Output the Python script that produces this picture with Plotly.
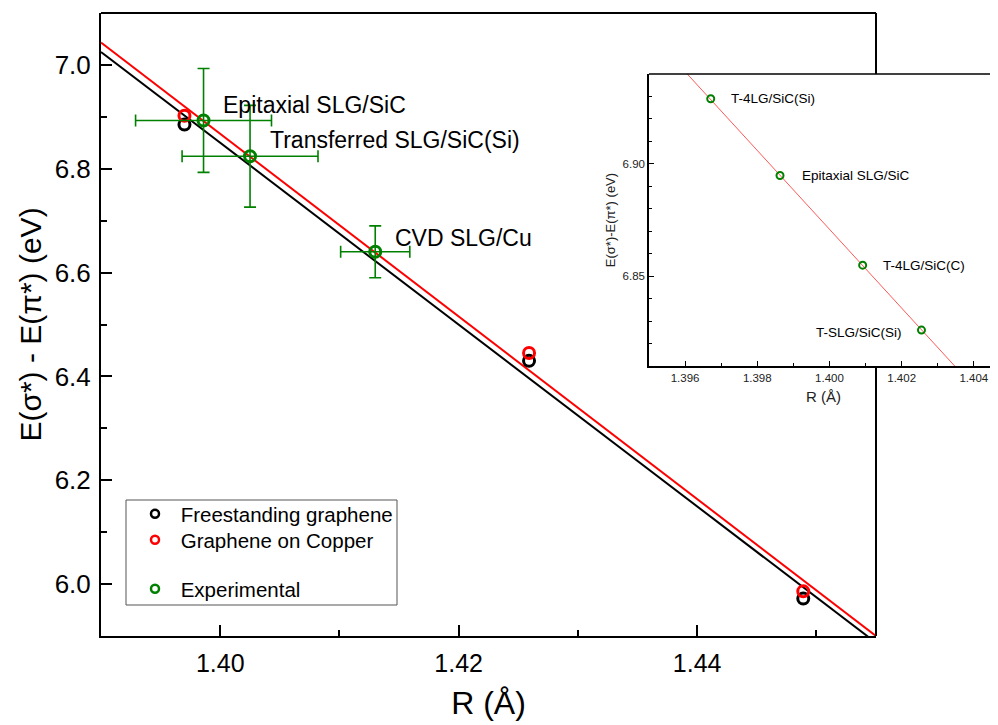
import plotly.graph_objects as go

# ---------------- main panel data ----------------
r_free = [1.3970, 1.4259, 1.4489]
e_free = [6.885, 6.430, 5.972]
r_cu = [1.3970, 1.4259, 1.4489]
e_cu = [6.902, 6.445, 5.986]

exp_names = ["Epitaxial SLG/SiC", "Transferred SLG/SiC(Si)", "CVD SLG/Cu"]
r_exp = [1.3986, 1.4025, 1.4130]
e_exp = [6.893, 6.824, 6.640]
r_exp_err = [0.0057, 0.0057, 0.0029]
e_exp_err = [0.100, 0.098, 0.050]

fit_free_r = [1.390, 1.455]
fit_free_e = [7.025, 5.887]
fit_cu_r = [1.390, 1.455]
fit_cu_e = [7.043, 5.900]

series_names = ["Freestanding graphene", "Graphene on Copper", "Experimental"]

main_x_ticks = [1.40, 1.42, 1.44]
main_y_ticks = [6.0, 6.2, 6.4, 6.6, 6.8, 7.0]

# ---------------- inset data ----------------
inset_names = ["T-4LG/SiC(Si)", "Epitaxial SLG/SiC", "T-4LG/SiC(C)", "T-SLG/SiC(Si)"]
inset_r = [1.39671, 1.39863, 1.40092, 1.40255]
inset_e = [6.929, 6.8948, 6.8549, 6.826]
inset_fit_r = [1.39606, 1.40347]
inset_fit_e = [6.940, 6.810]
inset_x_ticks = [1.396, 1.398, 1.400, 1.402, 1.404]
inset_y_ticks = [6.85, 6.90]

GREEN = "#008000"
RED = "#ff0000"
BLACK = "#000000"
FONT = "Liberation Sans, Arial, sans-serif"

# page is offset by the browser's default 8px body margin
OFF = 8
W, H = 998 - OFF, 725 - OFF


def px(x):
    return (x - OFF) / W


def py(y):
    return (H - (y - OFF)) / H


main_l, main_r, main_t, main_b = 101, 876, 13, 636
ins_l, ins_t, ins_b = 649, 74, 366

fig = go.Figure()

# fit lines
fig.add_trace(go.Scatter(x=fit_free_r, y=fit_free_e, mode="lines",
                         line=dict(color=BLACK, width=2), showlegend=False,
                         xaxis="x", yaxis="y"))
fig.add_trace(go.Scatter(x=fit_cu_r, y=fit_cu_e, mode="lines",
                         line=dict(color=RED, width=2), showlegend=False,
                         xaxis="x", yaxis="y"))

marker_main = dict(symbol="circle-open", size=11, line=dict(width=3))
fig.add_trace(go.Scatter(x=r_free, y=e_free, mode="markers",
                         marker=dict(marker_main, color=BLACK), showlegend=False))
fig.add_trace(go.Scatter(x=r_cu, y=e_cu, mode="markers",
                         marker=dict(marker_main, color=RED), showlegend=False))
fig.add_trace(go.Scatter(x=r_exp, y=e_exp, mode="markers",
                         marker=dict(marker_main, color=GREEN),
                         error_x=dict(type="data", array=r_exp_err, color=GREEN, thickness=1.6, width=6),
                         error_y=dict(type="data", array=e_exp_err, color=GREEN, thickness=1.6, width=6),
                         showlegend=False))

# legend entries (one legend per row so the rows sit exactly like the original)
NB = "\u00a0"
leg_marker = dict(symbol="circle-open", size=8, line=dict(width=2.5))
leg_ids = ["legend", "legend2", "legend3"]
for name, col, lid in zip(series_names, [BLACK, RED, GREEN], leg_ids):
    fig.add_trace(go.Scatter(x=[None], y=[None], mode="markers", name=NB + name,
                             marker=dict(leg_marker, color=col), legend=lid))

# inset
fig.add_trace(go.Scatter(x=inset_fit_r, y=inset_fit_e, mode="lines",
                         line=dict(color="rgba(255,60,60,0.85)", width=1),
                         showlegend=False, xaxis="x2", yaxis="y2"))
fig.add_trace(go.Scatter(x=inset_r, y=inset_e, mode="markers",
                         marker=dict(symbol="circle-open", size=7, color=GREEN, line=dict(width=2)),
                         showlegend=False, xaxis="x2", yaxis="y2"))

# main-panel labels
main_label_pos = [(1.4001, 6.923), (1.4040, 6.855), (1.4145, 6.667)]
for name, (xx, yy) in zip(exp_names, main_label_pos):
    fig.add_annotation(x=xx, y=yy, xref="x", yref="y", text=name, showarrow=False,
                       xanchor="left", yanchor="middle", font=dict(family=FONT, size=23, color=BLACK))

# inset labels
inset_label_pos = [(1.39722, 6.929, "left"), (1.39917, 6.8946, "left"),
                   (1.40142, 6.8548, "left"), (1.40206, 6.8248, "right")]
for name, (xx, yy, anc) in zip(inset_names, inset_label_pos):
    fig.add_annotation(x=xx, y=yy, xref="x2", yref="y2", text=name, showarrow=False,
                       xanchor=anc, yanchor="middle", font=dict(family=FONT, size=13.5, color=BLACK))

shapes = [
    # main frame top and right (right edge interrupted by the inset)
    dict(type="line", xref="paper", yref="paper", x0=px(main_l), x1=px(main_r),
         y0=py(main_t), y1=py(main_t), line=dict(color=BLACK, width=2)),
    dict(type="line", xref="paper", yref="paper", x0=px(main_r), x1=px(main_r),
         y0=py(main_t), y1=py(ins_t), line=dict(color=BLACK, width=2)),
    dict(type="line", xref="paper", yref="paper", x0=px(main_r), x1=px(main_r),
         y0=py(ins_b), y1=py(main_b), line=dict(color=BLACK, width=2)),
    # inset top border
    dict(type="line", xref="paper", yref="paper", x0=px(ins_l), x1=1.0,
         y0=py(ins_t), y1=py(ins_t), line=dict(color=BLACK, width=1.5)),
    # legend box
    dict(type="rect", xref="paper", yref="paper", x0=px(126), x1=px(397),
         y0=py(605), y1=py(500), line=dict(color="#555555", width=1)),
]

legend_style = dict(xanchor="left", yanchor="middle", bgcolor="rgba(0,0,0,0)", borderwidth=0,
                    font=dict(family=FONT, size=20.5, color=BLACK))

fig.update_layout(
    width=W, height=H,
    margin=dict(l=0, r=0, t=0, b=0),
    paper_bgcolor="white", plot_bgcolor="white",
    showlegend=True,
    legend=dict(legend_style, x=px(135), y=py(514)),
    legend2=dict(legend_style, x=px(135), y=py(540)),
    legend3=dict(legend_style, x=px(135), y=py(589)),
    shapes=shapes,
    xaxis=dict(domain=[px(main_l), px(main_r)], range=[1.39, 1.455],
               tickvals=main_x_ticks, ticktext=["%.2f" % v for v in main_x_ticks],
               ticks="inside", ticklen=11, tickwidth=2, tickcolor=BLACK,
               minor=dict(ticks="inside", ticklen=6, tickwidth=2, tickcolor=BLACK, dtick=0.01, tick0=1.39),
               showline=True, linewidth=2, linecolor=BLACK, mirror=False,
               showgrid=False, zeroline=False, ticklabelstandoff=4,
               tickfont=dict(family=FONT, size=25, color=BLACK),
               title=dict(text="R (Å)", font=dict(family=FONT, size=32, color=BLACK), standoff=16),
               anchor="y"),
    yaxis=dict(domain=[py(main_b), py(main_t)], range=[5.9, 7.1],
               tickvals=main_y_ticks, ticktext=["%.1f" % v for v in main_y_ticks],
               ticks="inside", ticklen=11, tickwidth=2, tickcolor=BLACK,
               minor=dict(ticks="inside", ticklen=6, tickwidth=2, tickcolor=BLACK, dtick=0.1, tick0=5.9),
               showline=True, linewidth=2, linecolor=BLACK, mirror=False,
               showgrid=False, zeroline=False, ticklabelstandoff=3,
               tickfont=dict(family=FONT, size=26, color=BLACK),
               title=dict(text="E(σ*) - E(π*) (eV)", font=dict(family=FONT, size=30, color=BLACK), standoff=4),
               anchor="x"),
    xaxis2=dict(domain=[px(ins_l), 1.0], range=[1.395, 1.40467],
                tickvals=inset_x_ticks, ticktext=["%.3f" % v for v in inset_x_ticks],
                ticks="inside", ticklen=5, tickwidth=1, tickcolor=BLACK,
                minor=dict(ticks="inside", ticklen=3, tickwidth=1, tickcolor=BLACK, dtick=0.001, tick0=1.395),
                showline=True, linewidth=1.5, linecolor=BLACK, mirror=False,
                showgrid=False, zeroline=False,
                tickfont=dict(family=FONT, size=11.5, color="#222222"),
                title=dict(text="R (Å)", font=dict(family=FONT, size=15, color="#222222"), standoff=9),
                anchor="y2"),
    yaxis2=dict(domain=[py(ins_b), py(ins_t)], range=[6.81, 6.94],
                tickvals=inset_y_ticks, ticktext=["%.2f" % v for v in inset_y_ticks],
                ticks="inside", ticklen=5, tickwidth=1, tickcolor=BLACK,
                minor=dict(ticks="inside", ticklen=3, tickwidth=1, tickcolor=BLACK, dtick=0.01, tick0=6.81),
                showline=True, linewidth=1.5, linecolor=BLACK, mirror=False,
                showgrid=False, zeroline=False,
                tickfont=dict(family=FONT, size=11.5, color="#222222"),
                title=dict(text="E(σ*)-E(π*) (eV)", font=dict(family=FONT, size=13, color="#222222"), standoff=4),
                anchor="x2"),
)

fig.write_html("out.html")
